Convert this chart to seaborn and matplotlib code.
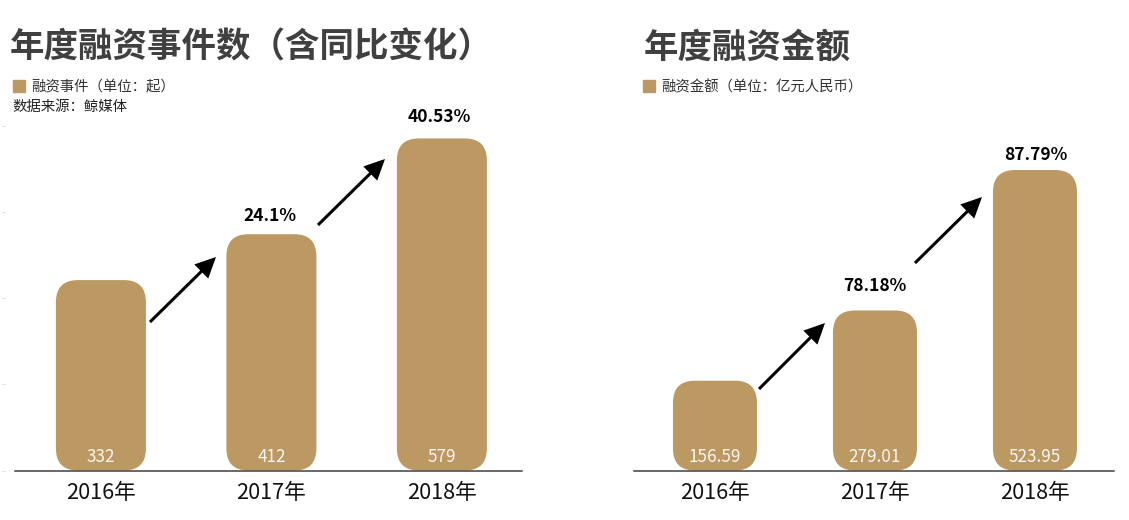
import matplotlib
matplotlib.use('Agg')
import matplotlib.pyplot as plt
from matplotlib.patches import FancyArrowPatch, FancyBboxPatch, Patch
import seaborn as sns

years = ['2016年', '2017年', '2018年']
event_counts = [332, 412, 579]
event_growth = ['24.1%', '40.53%']
amounts = [156.59, 279.01, 523.95]
amount_labels = ['156.59', '279.01', '523.95']
amount_growth = ['78.18%', '87.79%']

BAR_COLOR = '#BC9862'
TITLE_COLOR = '#404040'
W, H = 1129, 520

sns.set_theme(style='white')
plt.rcParams['font.family'] = ['Noto Sans CJK SC', 'DejaVu Sans']

fig = plt.figure(figsize=(W / 100, H / 100), dpi=100, facecolor='white')


def add_axes(left, right, top=126.4, bottom=470.5):
    return fig.add_axes([left / W, 1 - bottom / H, (right - left) / W, (bottom - top) / H])


def draw_panel(ax, values, labels, width, xlim):
    sns.barplot(x=years, y=values, ax=ax, color=BAR_COLOR, width=width, saturation=1)
    ax.set_xlim(*xlim)
    ax.set_ylim(0, 600)

    # swap the square bars for rounded ones, corners are about 22px
    px_x = ax.get_window_extent().width / (xlim[1] - xlim[0])
    px_y = ax.get_window_extent().height / 600
    r = 22 / px_x
    for bar, label in zip(list(ax.patches), labels):
        x, w, h = bar.get_x(), bar.get_width(), bar.get_height()
        bar.set_visible(False)
        ax.add_patch(FancyBboxPatch((x, 0), w, h, boxstyle=f'round,pad=0,rounding_size={r}',
                                    mutation_aspect=px_x / px_y, fc=BAR_COLOR, ec='none',
                                    clip_on=False))
        ax.annotate(label, (x + w / 2, 0), xytext=(0, 9.8), textcoords='offset points',
                    ha='center', va='center', color='white', alpha=0.9, fontsize=12.4)

    sns.despine(ax=ax, left=True)
    ax.spines['bottom'].set_color(TITLE_COLOR)
    ax.spines['bottom'].set_linewidth(1.1)
    ax.set_xlabel('')
    ax.set_ylabel('')
    ax.tick_params(axis='x', length=0, labelsize=15.6, labelcolor='#111111', pad=8)


def arrow(x0, y0, x1, y1):
    fig.add_artist(FancyArrowPatch(
        (x0 / W, 1 - y0 / H), (x1 / W, 1 - y1 / H), transform=fig.transFigure,
        arrowstyle='-|>,head_length=7.5,head_width=3.6', mutation_scale=1.5,
        lw=2.2, color='black', shrinkA=0, shrinkB=0,
        capstyle='butt', joinstyle='miter'))


def fig_text(x, y, s, **kw):
    fig.text(x / W, 1 - y / H, s, va='center', **kw)


def add_legend(ax, label, x):
    ax.legend(handles=[Patch(color=BAR_COLOR, label=label)], loc='upper left',
              bbox_to_anchor=(x / W, 1 - 74 / H), bbox_transform=fig.transFigure, frameon=False,
              fontsize=10.4, handlelength=0.88, handleheight=0.88, handletextpad=0.42,
              labelcolor='#333333', borderaxespad=0)


ax1 = add_axes(15, 522)
draw_panel(ax1, event_counts, [str(v) for v in event_counts], 0.528, (-0.504, 2.47))
ax1.set_yticks([0, 150, 300, 450, 600])
ax1.set_yticklabels([])
ax1.spines['left'].set_position(('outward', 7))
ax1.tick_params(axis='y', left=True, length=2, width=0.6, color='#d4d4d4')

ax2 = add_axes(634, 1114)
draw_panel(ax2, amounts, amount_labels, 0.525, (-0.506, 2.494))
ax2.set_yticks([])

# titles
fig_text(10, 47, '年度融资事件数（含同比变化）', fontsize=24.8, fontweight='bold', color=TITLE_COLOR)
fig_text(644, 47, '年度融资金额', fontsize=24.8, fontweight='bold', color=TITLE_COLOR)

# legends
add_legend(ax1, '融资事件（单位：起）', 7)
add_legend(ax2, '融资金额（单位：亿元人民币）', 637)
fig_text(12, 107.5, '数据来源：鲸媒体', fontsize=10.4, color='#222222')

# growth labels
fig_text(270, 216, event_growth[0], fontsize=12.5, fontweight='bold', color='black', ha='center')
fig_text(439, 117, event_growth[1], fontsize=12.5, fontweight='bold', color='black', ha='center')
fig_text(875, 286, amount_growth[0], fontsize=12.5, fontweight='bold', color='black', ha='center')
fig_text(1036, 155, amount_growth[1], fontsize=12.5, fontweight='bold', color='black', ha='center')

# growth arrows
arrow(150, 322, 216, 257)
arrow(318, 225, 385, 159)
arrow(759, 389, 825, 323)
arrow(915, 263, 982, 197)

fig.savefig('out.png', dpi=100)
